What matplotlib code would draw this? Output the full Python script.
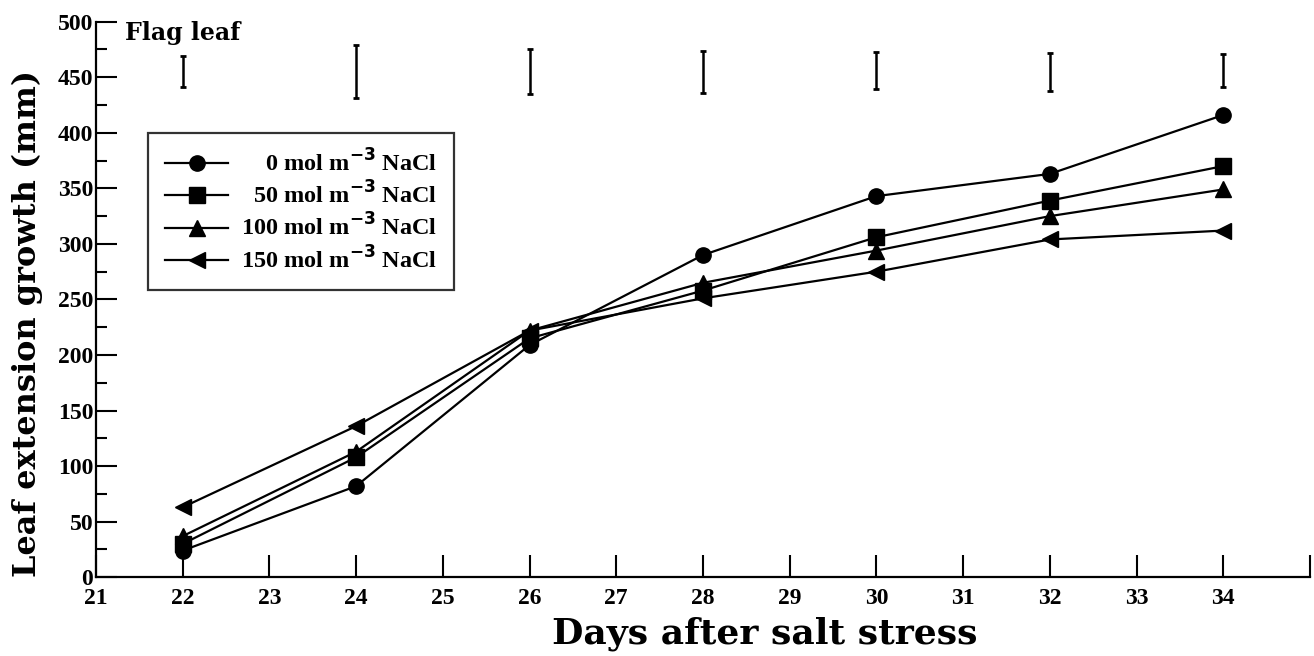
import matplotlib.pyplot as plt
from matplotlib.ticker import MultipleLocator

days = [22, 24, 26, 28, 30, 32, 34]

nacl_0 = [24, 82, 209, 290, 343, 363, 416]
nacl_50 = [30, 108, 215, 258, 306, 339, 370]
nacl_100 = [37, 113, 222, 265, 294, 325, 349]
nacl_150 = [63, 136, 222, 251, 275, 304, 312]

# standalone error bars drawn along the top of the plot
err_centre = [455, 455, 455, 455, 456, 455, 456]
err_half = [14, 24, 20, 19, 17, 17, 15]

series = [
    (nacl_0, 'o', '\u2007\u20070 mol m$^{-3}$ NaCl'),
    (nacl_50, 's', '\u200750 mol m$^{-3}$ NaCl'),
    (nacl_100, '^', '100 mol m$^{-3}$ NaCl'),
    (nacl_150, '<', '150 mol m$^{-3}$ NaCl'),
]

plt.rcParams['font.family'] = ['Liberation Serif', 'DejaVu Serif']
plt.rcParams['font.weight'] = 'bold'
plt.rcParams['mathtext.default'] = 'bf'

fig = plt.figure(figsize=(13.14, 6.56), dpi=100)
ax = fig.add_axes([0.073, 0.12, 0.924, 0.847])

for vals, mk, lab in series:
    ax.plot(days, vals, color='black', marker=mk, markersize=11,
            linewidth=1.6, label=lab)

ax.errorbar(days, err_centre, yerr=err_half, fmt='none', ecolor='black',
            elinewidth=1.8, capsize=2, capthick=2)

ax.set_xlim(21, 35)
ax.set_ylim(0, 500)
ax.set_xticks(range(21, 36))
ax.set_xticklabels([str(d) for d in range(21, 35)] + [''])
ax.yaxis.set_major_locator(MultipleLocator(50))
ax.yaxis.set_minor_locator(MultipleLocator(25))

ax.spines['top'].set_visible(False)
ax.spines['right'].set_visible(False)
ax.spines['left'].set_linewidth(1.6)
ax.spines['bottom'].set_linewidth(1.6)

ax.tick_params(axis='x', direction='in', length=16, width=1.5,
               labelsize=17, pad=8)
ax.tick_params(axis='y', which='major', direction='in', length=15,
               width=1.5, labelsize=17, pad=2)
ax.tick_params(axis='y', which='minor', direction='in', length=8, width=1.5)

ax.set_xlabel('Days after salt stress', fontsize=26, fontweight='bold',
              family='DejaVu Serif')
ax.set_ylabel('Leaf extension growth (mm)', fontsize=23, fontweight='bold',
              family='DejaVu Serif')
ax.xaxis.set_label_coords(0.551, -0.071)
ax.yaxis.set_label_coords(-0.044, 0.457)

ax.text(21.33, 490, 'Flag leaf', fontsize=17, fontweight='bold',
        family='DejaVu Serif', va='center', ha='left')

leg = ax.legend(loc='upper left', bbox_to_anchor=(0.033, 0.822),
                fontsize=17.5, frameon=True, fancybox=False,
                edgecolor='black', handlelength=2.6, borderpad=0.7,
                labelspacing=0.2, handletextpad=0.5)
leg.get_frame().set_linewidth(1.6)

fig.savefig('out.png', dpi=100)
